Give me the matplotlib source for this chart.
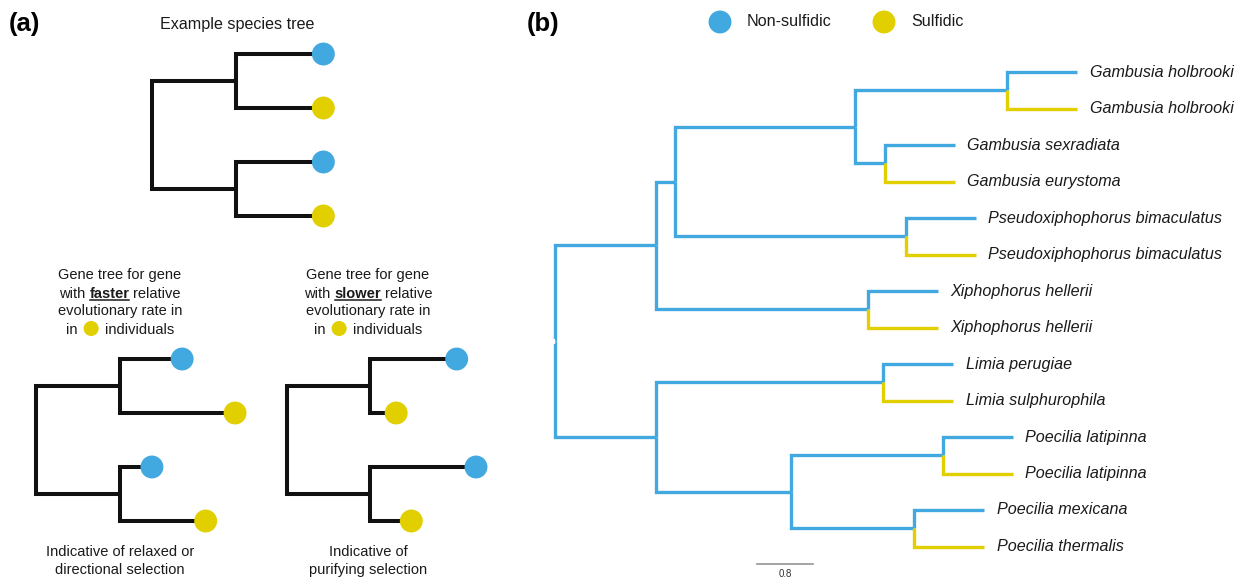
import matplotlib.pyplot as plt
import numpy as np

plt.rcParams['font.family'] = ['Liberation Sans', 'DejaVu Sans']

BLUE = '#42a9e0'
YELLOW = '#e2cf00'
state_colors = {'N': BLUE, 'S': YELLOW}

# ---- panel (a) data: inner branch and tip branch lengths of the toy trees
species_inner = [1.0, 1.0]
species_tips = [1.04, 1.04, 1.04, 1.04]
species_states = ['N', 'S', 'N', 'S']

faster_inner = [1.0, 1.0]
faster_tips = [0.74, 1.37, 0.38, 1.02]
faster_states = ['N', 'S', 'N', 'S']

slower_inner = [0.99, 0.99]
slower_tips = [1.03, 0.31, 1.26, 0.49]
slower_states = ['N', 'S', 'N', 'S']

# ---- panel (b) data
tip_labels = ['Gambusia holbrooki', 'Gambusia holbrooki',
              'Gambusia sexradiata', 'Gambusia eurystoma',
              'Pseudoxiphophorus bimaculatus', 'Pseudoxiphophorus bimaculatus',
              'Xiphophorus hellerii', 'Xiphophorus hellerii',
              'Limia perugiae', 'Limia sulphurophila',
              'Poecilia latipinna', 'Poecilia latipinna',
              'Poecilia mexicana', 'Poecilia thermalis']
tip_states = ['N', 'S', 'N', 'S', 'N', 'S', 'N', 'S',
              'N', 'S', 'N', 'S', 'N', 'S']

# (branch length, children) ; a tip is (branch length, tip index)
tree_b = (0.0, [
    (1.44, [
        (0.27, [
            (2.58, [
                (2.17, [(1.0, 0), (1.0, 1)]),
                (0.42, [(1.0, 2), (1.0, 3)]),
            ]),
            (3.30, [(1.0, 4), (1.0, 5)]),
        ]),
        (3.03, [(1.0, 6), (1.0, 7)]),
    ]),
    (1.44, [
        (3.25, [(1.0, 8), (1.0, 9)]),
        (1.93, [
            (2.17, [(1.0, 10), (1.0, 11)]),
            (1.76, [(1.0, 12), (1.0, 13)]),
        ]),
    ]),
])
scale_len = 0.8

legend_labels = ['Non-sulfidic', 'Sulfidic']
legend_states = ['N', 'S']

fig = plt.figure(figsize=(12.42, 5.79), dpi=100)
fig.patch.set_facecolor('white')

# pixel-space axes for panel (a), legend and panel letters
ax = fig.add_axes([0, 0, 1, 1])
ax.set_xlim(0, 1242)
ax.set_ylim(579, 0)
ax.axis('off')

# branch-length axes for panel (b)
unit_x, unit_y = 70.0, 36.5
axb = fig.add_axes([0, 0, 1, 1])
axb.set_xlim(-555 / unit_x, (1242 - 555) / unit_x)
axb.set_ylim((579 - 72) / unit_y, -72 / unit_y)
axb.axis('off')
axb.patch.set_alpha(0)

renderer = fig.canvas.get_renderer()
TXT = '#1a1a1a'


def draw_small_tree(x0, y_top, inner, tips, states, unit=84, spacing=54):
    ys = [y_top + i * spacing for i in range(4)]
    nx = [x0 + inner[0] * unit, x0 + inner[1] * unit]
    ny = [(ys[0] + ys[1]) / 2, (ys[2] + ys[3]) / 2]
    kw = dict(color='#111111', lw=2.9, solid_joinstyle='miter',
              solid_capstyle='butt', zorder=2)
    ax.plot([nx[0], x0, x0, nx[1]], [ny[0], ny[0], ny[1], ny[1]], **kw)
    tx = []
    for k in range(2):
        a, b = 2 * k, 2 * k + 1
        xa = nx[k] + tips[a] * unit
        xb = nx[k] + tips[b] * unit
        ax.plot([xa, nx[k], nx[k], xb], [ys[a], ys[a], ys[b], ys[b]], **kw)
        tx += [xa, xb]
    ax.scatter(tx, ys, s=16.5 ** 2, c=[state_colors[s] for s in states],
               edgecolors='none', zorder=3)


def rich_line(xc, y, parts, size=10.5):
    texts, widths = [], []
    for s, w in parts:
        if s == 'DOT':
            texts.append(None)
            widths.append(15)
            continue
        t = ax.text(0, y, s, fontsize=size, fontweight=w, va='baseline',
                    ha='left', color=TXT)
        texts.append(t)
        widths.append(t.get_window_extent(renderer).width)
    gap = 0.278 * size * 100 / 72
    if any(s == 'DOT' for s, _ in parts):
        gap = 6.5
    total = sum(widths) + gap * (len(parts) - 1)
    x = xc - total / 2
    for t, wd, (s, w) in zip(texts, widths, parts):
        if t is None:
            ax.scatter([x + wd / 2], [y - 5], s=15 ** 2 * 0.52, c=YELLOW,
                       edgecolors='none', zorder=3)
        else:
            t.set_x(x)
            if w == 'bold':
                ax.plot([x + 0.5, x + wd], [y + 2.6, y + 2.6], color=TXT, lw=1.1)
        x += wd + gap


# ---- panel (a)
ax.text(9, 24, '(a)', fontsize=18.5, fontweight='bold', va='center', ha='left')
ax.text(237, 29, 'Example species tree', fontsize=11.6, ha='center',
        va='baseline', color=TXT)
draw_small_tree(152, 54, species_inner, species_tips, species_states)
draw_small_tree(36, 359, faster_inner, faster_tips, faster_states)
draw_small_tree(287, 359, slower_inner, slower_tips, slower_states)

for xc, word in [(120, 'faster'), (368, 'slower')]:
    rich_line(xc, 279.5, [('Gene tree for gene', 'normal')])
    rich_line(xc, 297.5, [('with', 'normal'), (word, 'bold'), ('relative', 'normal')])
    rich_line(xc, 315.5, [('evolutionary rate in', 'normal')])
    rich_line(xc, 333.5, [('in', 'normal'), ('DOT', 'normal'), ('individuals', 'normal')])

for xc, lines in [(120, ['Indicative of relaxed or', 'directional selection']),
                  (368, ['Indicative of', 'purifying selection'])]:
    for i, line in enumerate(lines):
        ax.text(xc, 556 + 18 * i, line, fontsize=10.5, ha='center',
                va='baseline', color=TXT)

# ---- panel (b)
ax.text(527, 24, '(b)', fontsize=18.5, fontweight='bold', va='center', ha='left')
for (lx, tx), lab, st in zip([(720, 747), (884, 911)], legend_labels, legend_states):
    ax.scatter([lx], [22], s=16.5 ** 2, c=state_colors[st], edgecolors='none')
    ax.text(tx, 22, lab, fontsize=11.6, va='center', ha='left', color=TXT)


def draw_clade(node, depth):
    length, content = node
    x = depth + length
    if isinstance(content, int):
        axb.text(x + 0.18, content, tip_labels[content], fontsize=11.6,
                 style='italic', va='center', ha='left', color=TXT)
        return x, content, state_colors[tip_states[content]]
    kids = [draw_clade(c, x) for c in content]
    y = (kids[0][1] + kids[-1][1]) / 2
    for kx, ky, kc in kids:
        axb.plot([x, x, kx], [y, ky, ky], color=kc, lw=2.4,
                 solid_joinstyle='miter', solid_capstyle='butt',
                 zorder=3 if kc == YELLOW else 2)
    return x, y, BLUE


root_x, root_y, _ = draw_clade(tree_b, 0.0)
axb.plot([root_x - 0.04], [root_y], marker='s', ms=2.6, mfc='white',
         mec='white', zorder=4)

sx, sy = 2.886, 13.48
axb.plot([sx, sx + scale_len], [sy, sy], color='#8a8a8a', lw=1.1)
axb.text(sx + scale_len / 2, sy + 0.26, f'{scale_len}', fontsize=7,
         ha='center', va='center', color='#333333')

fig.savefig('out.png', dpi=100, facecolor='white')
